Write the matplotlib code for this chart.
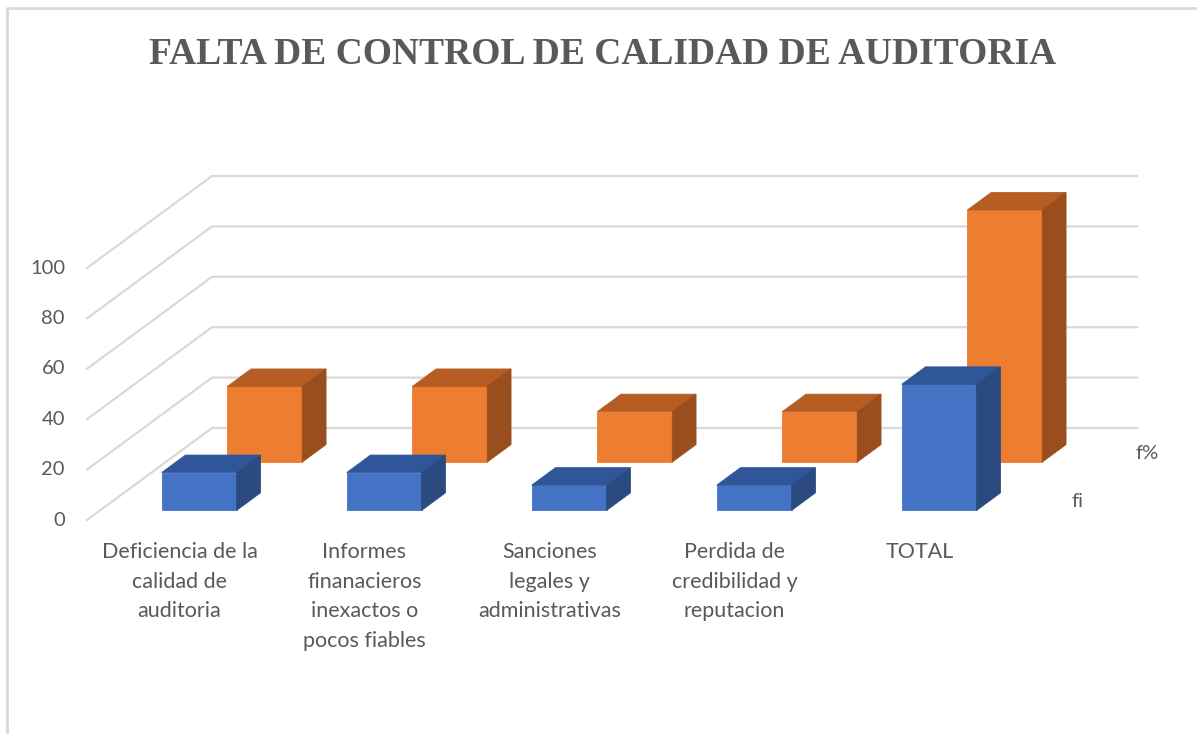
import numpy as np
import matplotlib.pyplot as plt
from matplotlib.patches import Polygon

# data
categories = [
    "Deficiencia de la\ncalidad de\nauditoria",
    "Informes\nfinanacieros\ninexactos o\npocos fiables",
    "Sanciones\nlegales y\nadministrativas",
    "Perdida de\ncredibilidad y\nreputacion",
    "TOTAL",
]
fi = [15, 15, 10, 10, 50]
f_pct = [30, 30, 20, 20, 100]
series_names = ["fi", "f%"]
y_ticks = [0, 20, 40, 60, 80, 100]

W, H = 1197, 734

# oblique projection (pixel space of the figure)
X0, Y0 = 87, 520      # front-left floor corner
SLOT = 185            # width per category
DX, DY = 125, 92      # full depth offset
SZ = 2.52             # pixels per value unit


def proj(c, d, z):
    return X0 + c * SLOT + d * DX, Y0 - z * SZ - d * DY


def draw_bar(ax, c, d0, d1, val, colors):
    front, top, side = colors
    x0, x1 = c + 0.333, c + 0.738
    face = [proj(x0, d0, 0), proj(x1, d0, 0), proj(x1, d0, val), proj(x0, d0, val)]
    lid = [proj(x0, d0, val), proj(x1, d0, val), proj(x1, d1, val), proj(x0, d1, val)]
    rside = [proj(x1, d0, 0), proj(x1, d1, 0), proj(x1, d1, val), proj(x1, d0, val)]
    for pts, col in [(face, front), (lid, top), (rside, side)]:
        ax.add_patch(Polygon(pts, closed=True, facecolor=col, edgecolor=col, lw=0.6))


fig = plt.figure(figsize=(W / 100, H / 100), dpi=100)
ax = fig.add_axes([0, 0, 1, 1])
ax.set_xlim(0, W)
ax.set_ylim(H, 0)
ax.axis("off")

grid_col = "#D9D9D9"
txt_col = "#595959"
n = len(categories)

# walls gridlines
for z in y_ticks:
    xa, ya = proj(0, 0, z)
    xb, yb = proj(0, 1, z)
    xc, yc = proj(n, 1, z)
    ax.plot([xa, xb, xc], [ya, yb, yc], color=grid_col, lw=1.6, zorder=1)
    ax.text(xa - 22, ya, str(z), ha="right", va="center", fontsize=14.5,
            color=txt_col, family="Lato")

blue = ("#4472C4", "#30569A", "#2B4A80")
orange = ("#ED7D31", "#B55D22", "#9A4E1D")

for i in range(n):
    draw_bar(ax, i, 0.63, 0.82, f_pct[i], orange)
for i in range(n):
    draw_bar(ax, i, 0.105, 0.295, fi[i], blue)

# category labels
for i, lab in enumerate(categories):
    x, y = proj(i + 0.5, 0, 0)
    ax.text(x, 542, lab, ha="center", va="top", fontsize=15.5, color=txt_col,
            family="Lato", linespacing=1.6)

# series (depth) labels
for name, d in zip(series_names, [0.2, 0.72]):
    x, y = proj(n, d, 0)
    ax.text(x + 34, y, name, ha="left", va="center", fontsize=14.5,
            color=txt_col, family="Lato")

ax.text(603, 55, "FALTA DE CONTROL DE CALIDAD DE AUDITORIA", ha="center",
        va="center", fontsize=27, fontweight="bold", color=txt_col,
        family="Liberation Serif")

# chart border (left and top only visible)
ax.plot([7, 7, W], [H, 8, 8], color=grid_col, lw=2, zorder=0)

fig.savefig("out.png", dpi=100)
